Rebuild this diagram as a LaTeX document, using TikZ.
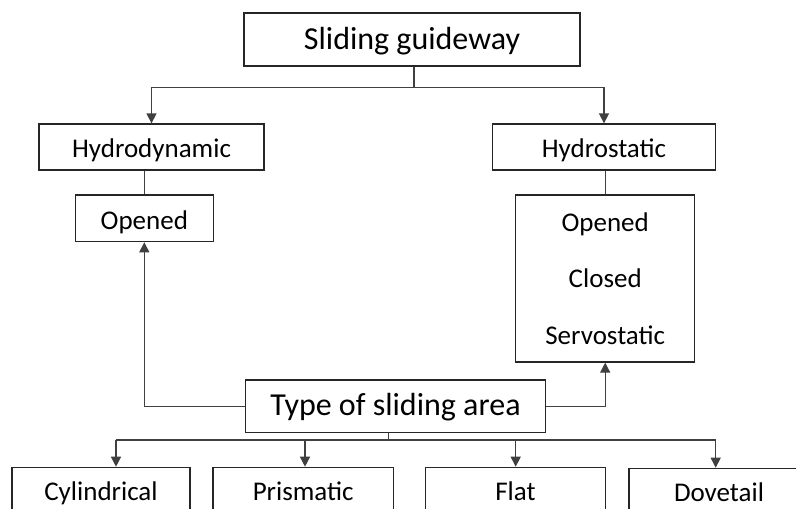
\documentclass[tikz,border=0pt]{standalone}
\usepackage{fontspec}
\setmainfont{Carlito}
\usetikzlibrary{arrows.meta}

\def\busy{87.7}

\tikzset{
  box/.style={draw=black!85,line width=1.3pt,inner sep=0pt,text height=26pt,text depth=4.6pt,
    font=\fontsize{27}{32}\selectfont},
  bigbox/.style={box,text height=24pt,text depth=5pt,font=\fontsize{32}{38}\selectfont},
  leaf/.style={box,text height=18pt,text depth=4.4pt,minimum height=53pt,anchor=north},
  link/.style={draw=black!75,line width=1.3pt},
  arr/.style={link,-{Triangle[length=10pt,width=10pt]}}
}

\begin{document}
\begin{tikzpicture}[x=1pt,y=-1pt]
    \clip (0,0) rectangle (796,509);
    \fill[white] (0,0) rectangle (796,509);

    \node[bigbox,minimum width=336pt,minimum height=53pt] (guide) at (412,39.5) {Sliding guideway};

    \node[box,minimum width=225pt,minimum height=46pt] (hdyn) at (151.5,147) {Hydrodynamic};
    \node[box,minimum width=222.6pt,minimum height=46pt] (hsta) at (604,147) {Hydrostatic};

    \node[box,minimum width=138pt,minimum height=46.7pt] (hdynsub) at (144.3,218.3) {Opened};
    \node[box,minimum width=179pt,minimum height=167pt,align=center,text height=,text depth=,
          font=\fontsize{27}{56.5}\selectfont] (hstasub) at (605.2,278.5)
      {Opened\\Closed\\Servostatic};

    \node[bigbox,minimum width=300.5pt,minimum height=52.7pt] (type) at (395.5,406.3) {Type of sliding area};

    \node[leaf,minimum width=178pt] (cyl) at (101,466.7) {Cylindrical};
    \node[leaf,minimum width=180.4pt] (pris) at (303.2,466.7) {Prismatic};
    \node[leaf,minimum width=180.2pt] (flat) at (515.5,466.7) {Flat};
    \node[leaf,minimum width=180pt] (dove) at (719,467.7) {Dovetail};

    % top tree
    \coordinate (gbus) at (414,\busy);
    \draw[link] (guide.south -| gbus) -- (gbus);
    \draw[arr] (gbus) -| (hdyn.north);
    \draw[arr] (gbus) -| (hsta.north);
    \draw[link] (hdynsub.north) -- (hdynsub.north |- hdyn.south);
    \draw[link] (hstasub.north) -- (hstasub.north |- hsta.south);

    % back from the sliding area
    \draw[arr] (type.west) -| (hdynsub.south);
    \draw[arr] (type.east) -| (hstasub.south);

    % bottom tree
    \coordinate (tbus) at (388.3,440);
    \coordinate (b1) at (116,440);
    \coordinate (b2) at (305,440);
    \coordinate (b3) at (515.7,440);
    \coordinate (b4) at (715.7,440);
    \draw[link] (type.south -| tbus) -- (tbus);
    \draw[link] (b1) -- (b4);
    \draw[arr] (b1) -- (b1 |- cyl.north);
    \draw[arr] (b2) -- (b2 |- pris.north);
    \draw[arr] (b3) -- (b3 |- flat.north);
    \draw[arr] (b4) -- (b4 |- dove.north);
\end{tikzpicture}
\end{document}
